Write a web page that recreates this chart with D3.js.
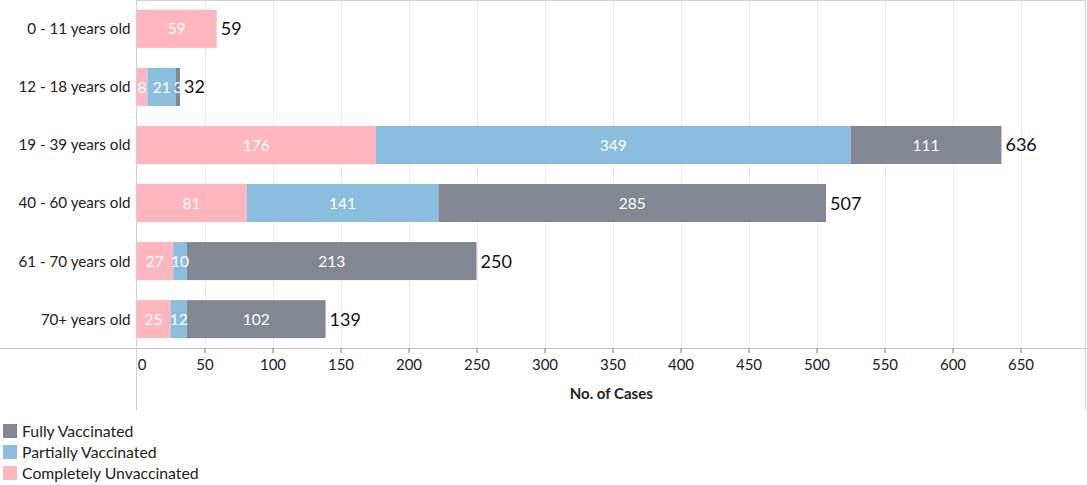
<!DOCTYPE html>
<html>
<head>
<meta charset="utf-8">
<script src="https://cdn.jsdelivr.net/npm/d3@7"></script>
<style>
  body { margin: 0; background: #fff; }
  svg { display: block; font-family: Lato, "Open Sans", sans-serif; }
</style>
</head>
<body>
<div id="chart"></div>
<script>
var categories = ["0 - 11 years old", "12 - 18 years old", "19 - 39 years old",
                  "40 - 60 years old", "61 - 70 years old", "70+ years old"];
var unvaccinated = [59, 8, 176, 81, 27, 25];
var partially = [0, 21, 349, 141, 10, 12];
var fully = [0, 3, 111, 285, 213, 102];
var seriesNames = ["Completely Unvaccinated", "Partially Vaccinated", "Fully Vaccinated"];
var seriesColors = ["#ffb6bf", "#8bbddf", "#828891"];
var xTicks = [0, 50, 100, 150, 200, 250, 300, 350, 400, 450, 500, 550, 600, 650];

var width = 1087, height = 485;
var plotLeft = 136.5, plotRight = 1086, plotTop = 0, plotBottom = 348;

var rows = categories.map(function(c, i) {
    return { cat: c, vals: [unvaccinated[i], partially[i], fully[i]] };
});

var xScale = d3.scaleLinear()
    .domain([0, 650])
    .range([plotLeft, plotLeft + 650 * 1.36]);
var yScale = d3.scaleBand()
    .domain(categories)
    .range([plotTop, plotBottom])
    .paddingInner(0.345)
    .paddingOuter(0.17);

var svg = d3.select("#chart")
    .append("svg")
    .attr("width", width)
    .attr("height", height);

// gridlines
svg.append("g").attr("class", "grid")
    .selectAll("line")
    .data(xTicks.slice(1))
    .enter()
    .append("line")
    .attr("x1", function(d) { return Math.round(xScale(d)) + 0.5; })
    .attr("x2", function(d) { return Math.round(xScale(d)) + 0.5; })
    .attr("y1", plotTop)
    .attr("y2", plotBottom)
    .style("stroke", "#ececec");

// frame lines
svg.append("line").attr("x1", plotLeft).attr("x2", plotRight)
    .attr("y1", 0.5).attr("y2", 0.5).style("stroke", "#d4d4d4");
svg.append("line").attr("x1", plotLeft).attr("x2", plotLeft)
    .attr("y1", 0).attr("y2", 410).style("stroke", "#d4d4d4");
svg.append("line").attr("x1", plotRight - 0.5).attr("x2", plotRight - 0.5)
    .attr("y1", 0).attr("y2", 410).style("stroke", "#d4d4d4");

// bars
var stack = rows.map(function(r) {
    var x0 = 0;
    return r.vals.map(function(v, k) {
        var seg = { cat: r.cat, k: k, v: v, x0: x0, x1: x0 + v };
        x0 += v;
        return seg;
    });
});
var segs = [].concat.apply([], stack).filter(function(s) { return s.v > 0; });

var bars = svg.append("g").attr("class", "bars");
bars.selectAll("rect")
    .data(segs)
    .enter()
    .append("rect")
    .attr("x", function(d) { return xScale(d.x0); })
    .attr("width", function(d) { return xScale(d.x1) - xScale(d.x0); })
    .attr("y", function(d) { return yScale(d.cat); })
    .attr("height", yScale.bandwidth())
    .style("fill", function(d) { return seriesColors[d.k]; });

bars.selectAll("text")
    .data(segs)
    .enter()
    .append("text")
    .attr("x", function(d) { return (xScale(d.x0) + xScale(d.x1)) / 2; })
    .attr("y", function(d) { return yScale(d.cat) + yScale.bandwidth() / 2; })
    .attr("dy", "0.36em")
    .attr("text-anchor", "middle")
    .style("fill", "#fff")
    .style("font-size", "15.5px")
    .text(function(d) { return d.v; });

// totals
svg.append("g").attr("class", "totals")
    .selectAll("text")
    .data(rows)
    .enter()
    .append("text")
    .attr("x", function(d) { return xScale(d3.sum(d.vals)) + 4; })
    .attr("y", function(d) { return yScale(d.cat) + yScale.bandwidth() / 2; })
    .attr("dy", "0.36em")
    .style("fill", "#111")
    .style("font-size", "18px")
    .text(function(d) { return d3.sum(d.vals); });

// category labels
svg.append("g").attr("class", "y-labels")
    .selectAll("text")
    .data(categories)
    .enter()
    .append("text")
    .attr("x", plotLeft - 6)
    .attr("y", function(d) { return yScale(d) + yScale.bandwidth() / 2; })
    .attr("dy", "0.36em")
    .attr("text-anchor", "end")
    .style("fill", "#222")
    .style("font-size", "15.2px")
    .text(function(d) { return d; });

// x axis
var xAxis = svg.append("g")
    .attr("transform", "translate(0," + plotBottom + ")")
    .call(d3.axisBottom(xScale).tickValues(xTicks).tickSize(5).tickPadding(6));
xAxis.select(".domain").remove();
xAxis.insert("line", ":first-child")
    .attr("x1", 0).attr("x2", plotRight)
    .attr("y1", 0.5).attr("y2", 0.5)
    .style("stroke", "#c8c8c8");
xAxis.selectAll(".tick line").style("stroke", "#777");
xAxis.selectAll(".tick text")
    .style("font-family", "Lato, sans-serif")
    .style("font-size", "15px")
    .style("fill", "#222")
    .attr("dx", function(d) { return d === 0 ? "5px" : 0; });
xAxis.selectAll(".tick").filter(function(d) { return d === 0; })
    .select("line").remove();

svg.append("text")
    .attr("x", (plotLeft + plotRight) / 2)
    .attr("y", 399)
    .attr("text-anchor", "middle")
    .style("font-weight", "bold")
    .style("font-size", "15px")
    .style("fill", "#222")
    .text("No. of Cases");

// legend
var legendOrder = [2, 1, 0];
var legend = svg.append("g").attr("class", "legend")
    .selectAll("g")
    .data(legendOrder)
    .enter()
    .append("g")
    .attr("transform", function(d, i) { return "translate(3," + (424 + i * 21) + ")"; });
legend.append("rect")
    .attr("width", 14)
    .attr("height", 14)
    .style("fill", function(d) { return seriesColors[d]; });
legend.append("text")
    .attr("x", 19)
    .attr("y", 7)
    .attr("dy", "0.36em")
    .style("font-size", "15.8px")
    .style("fill", "#222")
    .text(function(d) { return seriesNames[d]; });
</script>
</body>
</html>
